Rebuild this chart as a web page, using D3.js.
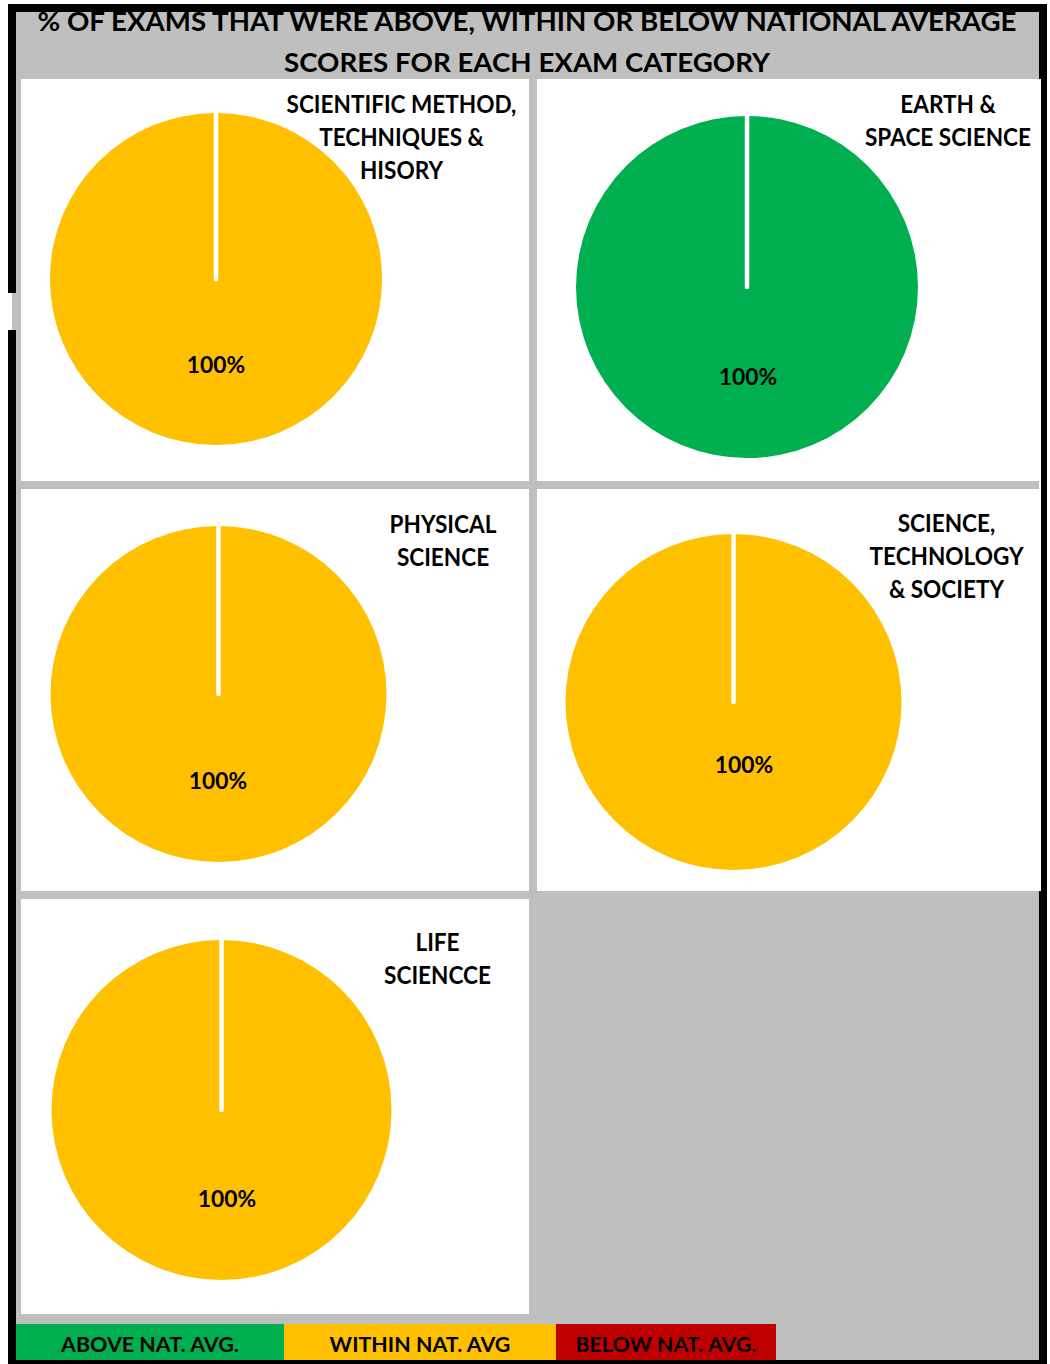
<!DOCTYPE html>
<html>
<head>
<meta charset="utf-8">
<script src="https://cdn.jsdelivr.net/npm/d3@7"></script>
<style>
html,body{margin:0;padding:0;background:#fff;}
svg{display:block;}
text{font-family:Lato,"Open Sans",sans-serif;font-weight:700;fill:#000;}
</style>
</head>
<body>
<svg id="chart" width="1050" height="1364"></svg>
<script>
// ---------- DATA ----------
const titleLines = ["% OF EXAMS THAT WERE ABOVE, WITHIN OR BELOW NATIONAL AVERAGE", "SCORES FOR EACH EXAM CATEGORY"];
const categories = [
  ["SCIENTIFIC METHOD,", "TECHNIQUES &", "HISORY"],
  ["EARTH &", "SPACE SCIENCE"],
  ["PHYSICAL", "SCIENCE"],
  ["SCIENCE,", "TECHNOLOGY", "& SOCIETY"],
  ["LIFE", "SCIENCCE"]
];
const seriesNames = ["ABOVE NAT. AVG.", "WITHIN NAT. AVG", "BELOW NAT. AVG."];
const aboveValues  = [0, 100, 0, 0, 0];
const withinValues = [100, 0, 100, 100, 100];
const belowValues  = [0, 0, 0, 0, 0];
const seriesColors = ["#00B050", "#FFC000", "#C00000"];

// ---------- LAYOUT ----------
const gray = "#BFBFBF";
const panels = [
  {x:21,  y:79,  w:508, h:402, cx:216,   cy:279,  r:166, lx:216, ly:373, tx:401.5, ty:113},
  {x:537, y:79,  w:504, h:402, cx:747,   cy:287,  r:171, lx:748, ly:385, tx:948,   ty:113},
  {x:21,  y:489, w:508, h:402, cx:218.5, cy:694,  r:168, lx:218, ly:789, tx:443,   ty:533},
  {x:537, y:489, w:504, h:402, cx:733.5, cy:702,  r:168, lx:744, ly:773, tx:946.5, ty:531.5},
  {x:21,  y:899, w:508, h:415, cx:221.5, cy:1110, r:170, lx:227, ly:1207, tx:437.5, ty:951}
];
const legendBox = {x:16, y:1324, h:36, widths:[268, 272, 220]};
const kTitle = 1.045, kCat = 0.94, kVal = 1.035, kLeg = 1.02;

const svg = d3.select("#chart");

function fitText(sel, k) {
  sel.each(function(){
    const len = this.getComputedTextLength();
    d3.select(this).attr("textLength", len * k).attr("lengthAdjust", "spacingAndGlyphs");
  });
}

// background gray
svg.append("rect").attr("x",16).attr("y",12).attr("width",1023).attr("height",1348).attr("fill",gray);

// title
svg.selectAll("text.title").data(titleLines).join("text")
  .attr("class","title")
  .attr("x",527).attr("y",(d,i)=>31 + i*41)
  .attr("text-anchor","middle").attr("font-size",26.5)
  .text(d=>d).call(fitText, kTitle);

// panels
const pie = d3.pie().sort(null).value(d=>d.v);
const arc = d3.arc().innerRadius(0);

categories.forEach((cat, i) => {
  const p = panels[i];
  svg.append("rect").attr("x",p.x).attr("y",p.y).attr("width",p.w).attr("height",p.h).attr("fill","#fff");
  const vals = [aboveValues[i], withinValues[i], belowValues[i]].map((v,j)=>({v, c:seriesColors[j]}));
  const arcs = pie(vals).filter(a=>a.data.v>0);
  const g = svg.append("g").attr("transform",`translate(${p.cx},${p.cy})`);
  g.selectAll("path").data(arcs).join("path")
    .attr("d", a=>arc.outerRadius(p.r)(a))
    .attr("fill", a=>a.data.c);
  // slice borders (radial edges)
  g.selectAll("line").data(arcs).join("line")
    .attr("x1",0).attr("y1",0)
    .attr("x2",a=>p.r*Math.sin(a.startAngle)).attr("y2",a=>-p.r*Math.cos(a.startAngle))
    .attr("stroke","#fff").attr("stroke-width",4.5).attr("stroke-linecap","round");
  // value label
  const tot = d3.sum(vals, d=>d.v);
  svg.append("text").attr("x",p.lx).attr("y",p.ly).attr("text-anchor","middle").attr("font-size",22)
    .text(d3.format(".0%")(arcs[0].data.v/tot)).call(fitText, kVal);
  // category title
  svg.append("g").selectAll("text").data(cat).join("text")
    .attr("x",p.tx).attr("y",(d,j)=>p.ty + j*33)
    .attr("text-anchor","middle").attr("font-size",24)
    .text(d=>d).call(fitText, kCat);
});

// legend
let lx = legendBox.x;
seriesNames.forEach((name, i) => {
  const w = legendBox.widths[i];
  svg.append("rect").attr("x",lx).attr("y",legendBox.y).attr("width",w).attr("height",legendBox.h).attr("fill",seriesColors[i]);
  svg.append("text").attr("x",lx + w/2).attr("y",1352).attr("text-anchor","middle").attr("font-size",21)
    .text(name).call(fitText, kLeg);
  lx += w;
});

// black frame
const frame = svg.append("g").attr("fill","#000");
frame.append("rect").attr("x",8).attr("y",4).attr("width",1039).attr("height",8);
frame.append("rect").attr("x",8).attr("y",4).attr("width",8).attr("height",289);
frame.append("rect").attr("x",12).attr("y",293).attr("width",4).attr("height",37).attr("fill",gray);
frame.append("rect").attr("x",8).attr("y",330).attr("width",8).attr("height",1034);
frame.append("rect").attr("x",1041).attr("y",4).attr("width",6).attr("height",1360);
frame.append("rect").attr("x",1039).attr("y",891).attr("width",8).attr("height",473);
frame.append("rect").attr("x",1039).attr("y",4).attr("width",8).attr("height",75);
frame.append("rect").attr("x",8).attr("y",1360).attr("width",1039).attr("height",4);
</script>
</body>
</html>
